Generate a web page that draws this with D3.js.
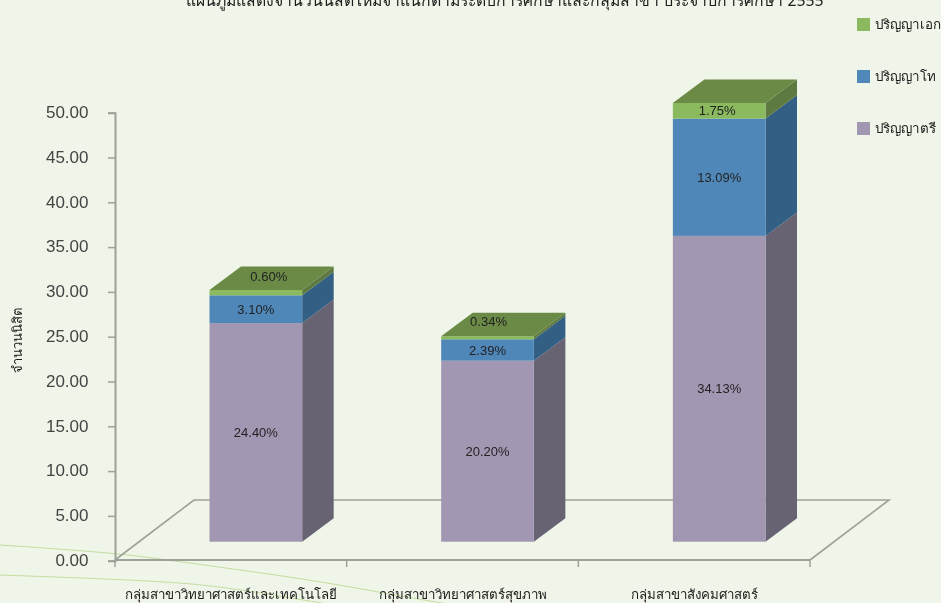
<!DOCTYPE html>
<html lang="th"><head><meta charset="utf-8">
<script src="https://cdn.jsdelivr.net/npm/d3@7"></script>
<style>
html,body{margin:0;padding:0;background:#eff5e8;overflow:hidden}
svg{display:block;filter:blur(.45px)}
text{font-family:"Noto Sans","Liberation Sans",sans-serif;fill:#1c1c1c}
</style></head><body><svg id="c" width="941" height="603"></svg>
<script>
const titleText = "แผนภูมิแสดงจำนวนนิสิตใหม่จำแนกตามระดับการศึกษาและกลุ่มสาขา ประจำปีการศึกษา 2555";
const yTitle = "จำนวนนิสิต";
const categories = ["กลุ่มสาขาวิทยาศาสตร์และเทคโนโลยี","กลุ่มสาขาวิทยาศาสตร์สุขภาพ","กลุ่มสาขาสังคมศาสตร์"];
const seriesNames = ["ปริญญาตรี","ปริญญาโท","ปริญญาเอก"];
const bachelor = [24.40,20.20,34.13];
const master = [3.10,2.39,13.09];
const doctorate = [0.60,0.34,1.75];
const yTicks = [0,5,10,15,20,25,30,35,40,45,50];

const colors = {
  "ปริญญาตรี":{front:"#a297b3",side:"#686373",top:"#7f7690"},
  "ปริญญาโท":{front:"#4f87b9",side:"#325f83",top:"#3d6a90"},
  "ปริญญาเอก":{front:"#8bba5e",side:"#5f7a40",top:"#6b8a46"}
};
const svg = d3.select("#c");
const y = d3.scaleLinear().domain([0,50]).range([560.7,112.7]);
const x = d3.scaleBand().domain(categories).range([115,810]).paddingInner(.6).paddingOuter(.3);
const floorDx=79, floorDy=60, axisY=560, barLift=19, barDx=31.5, barDy=23.5;
const liftX = barLift*floorDx/floorDy;

// decorative background curves
const deco = d3.line().curve(d3.curveBasis);
svg.append("g").attr("fill","none").attr("stroke","#c3dc9e").attr("stroke-width",1)
  .selectAll("path").data([
    [[0,545],[117,553],[167,560],[300,578],[367,590],[447,604]],
    [[0,575],[167,581],[233,588],[327,604]]
  ]).join("path").attr("d",deco);

// floor
const fl = svg.append("g").attr("fill","none").attr("stroke","#9ea197").attr("stroke-width",2);
fl.append("path").attr("stroke-width",1.6).attr("d",d3.line()([[115,axisY],[115+floorDx,axisY-floorDy],[810+floorDx,axisY-floorDy],[810,axisY]]));

// y axis
const ya = svg.append("g").attr("transform","translate(115,0)")
  .call(d3.axisLeft(y).tickValues(yTicks).tickFormat(d3.format(".2f")).tickSize(7).tickPadding(19.5));
ya.select(".domain").attr("stroke","#9ea197").attr("stroke-width",2);
ya.selectAll("line").attr("stroke","#9ea197").attr("stroke-width",1.5);
ya.selectAll("text").style("font-family","'Liberation Sans',sans-serif").style("font-size","17px").style("fill","#444").attr("dy","0.28em");

// x axis
const xTicks = d3.range(4).map(i=>115+i*(695/3));
const xa = svg.append("g").attr("stroke","#9ea197");
xa.append("path").attr("fill","none").attr("stroke-width",2).attr("d",d3.line()([[115,axisY],[810,axisY]]));
xa.selectAll("line").data(xTicks).join("line").attr("x1",d=>d).attr("x2",d=>d).attr("y1",axisY).attr("y2",axisY+7).attr("stroke-width",1.5);
svg.append("g").selectAll("text").data(categories).join("text")
  .attr("x",d=>x(d)+x.bandwidth()/2).attr("y",599).attr("text-anchor","middle").style("font-size","13.3px").text(d=>d);

// stacked 3D bars
const table = categories.map((c,i)=>({c,[seriesNames[0]]:bachelor[i],[seriesNames[1]]:master[i],[seriesNames[2]]:doctorate[i]}));
const stack = d3.stack().keys(seriesNames)(table);
const px = v=>y(v)-barLift;
const g = svg.append("g");
const poly = pts=>d3.line()(pts)+"Z";
stack.forEach(layer=>{
  const col = colors[layer.key];
  const gg = g.append("g").selectAll("g").data(layer).join("g");
  gg.append("path").attr("fill",col.side).attr("d",d=>{
    const r=x(d.data.c)+liftX+x.bandwidth();
    return poly([[r,px(d[0])],[r+barDx,px(d[0])-barDy],[r+barDx,px(d[1])-barDy],[r,px(d[1])]]);
  });
  gg.append("rect").attr("fill",col.front)
    .attr("x",d=>x(d.data.c)+liftX).attr("width",x.bandwidth())
    .attr("y",d=>px(d[1])).attr("height",d=>px(d[0])-px(d[1]));
});
// top face
g.append("g").selectAll("path").data(stack[2]).join("path").attr("fill",colors[seriesNames[2]].top).attr("d",d=>{
  const l=x(d.data.c)+liftX, r=l+x.bandwidth(), t=px(d[1]);
  return poly([[l,t],[l+barDx,t-barDy],[r+barDx,t-barDy],[r,t]]);
});

// value labels
const thinOffset = [[13,-16],[1,-16],[-2,0]];
stack.forEach((layer,si)=>{
  svg.append("g").selectAll("text").data(layer).join("text")
    .attr("text-anchor","middle").style("font-family","'Liberation Sans',sans-serif").style("font-size","13px").style("fill","#222")
    .attr("x",(d,i)=>x(d.data.c)+liftX+x.bandwidth()/2+(si==2?thinOffset[i][0]:0))
    .attr("y",(d,i)=>(px(d[0])+px(d[1]))/2+4.5+(si==2?thinOffset[i][1]:0))
    .attr("textLength",d=>d3.format(".2f")(d[1]-d[0]).length*7+9).attr("lengthAdjust","spacingAndGlyphs")
    .text(d=>d3.format(".2f")(d[1]-d[0])+"%");
});

// title + y title
svg.append("text").attr("x",505).attr("y",6).attr("text-anchor","middle").style("font-size","15.75px").text(titleText);
svg.append("text").attr("transform","translate(22,340) rotate(-90)").attr("text-anchor","middle").style("font-size","13px").text(yTitle);

// legend
const legendOrder = seriesNames.slice().reverse();
const lg = svg.append("g").selectAll("g").data(legendOrder).join("g")
  .attr("transform",(d,i)=>`translate(857,${18+i*52})`);
lg.append("rect").attr("width",13).attr("height",13).attr("fill",d=>colors[d].front);
lg.append("text").attr("x",18).attr("y",11).style("font-size","13.4px").text(d=>d);
</script></body></html>
